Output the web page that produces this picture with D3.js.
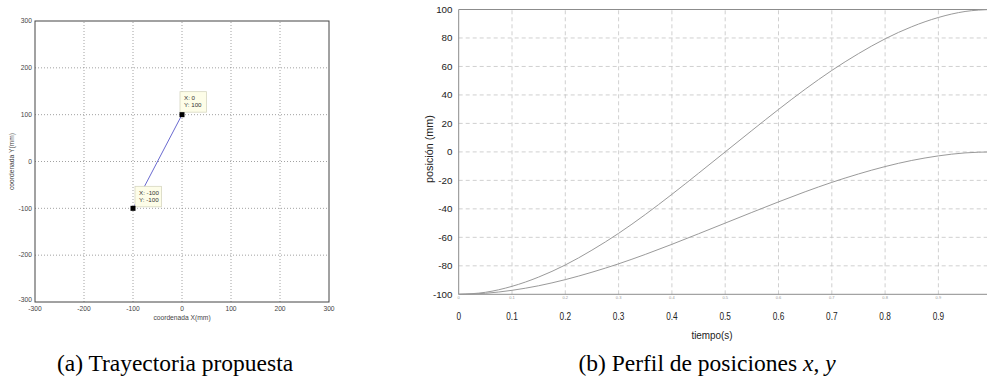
<!DOCTYPE html>
<html>
<head>
<meta charset="utf-8">
<script src="https://cdn.jsdelivr.net/npm/d3@7"></script>
<style>
  body { margin: 0; background: #fff; }
  svg { display: block; }
</style>
</head>
<body>
<div id="fig"></div>
<script>
// (a) trajectory: start and end points
let trajX = [-100, 0]
let trajY = [-100, 100]
let tipLabels = [["X: -100", "Y: -100"], ["X: 0", "Y: 100"]]
let tickA = [-300, -200, -100, 0, 100, 200, 300]

// (b) position profiles
let tiempo = [0, 0.05, 0.1, 0.15, 0.2, 0.25, 0.3, 0.35, 0.4, 0.45, 0.5,
  0.55, 0.6, 0.65, 0.7, 0.75, 0.8, 0.85, 0.9, 0.95, 1]
let posX = [-100, -98.6, -94.4, -87.9, -79.4, -69, -57.2, -44, -29.8, -15, 0,
  15, 29.8, 44, 57.2, 69, 79.4, 87.9, 94.4, 98.6, 100]
let posY = [-100, -99.3, -97.2, -94, -89.7, -84.5, -78.6, -72, -64.9, -57.5, -50,
  -42.5, -35.1, -28, -21.4, -15.5, -10.3, -6, -2.8, -0.7, 0]
let tickT = [0, 0.1, 0.2, 0.3, 0.4, 0.5, 0.6, 0.7, 0.8, 0.9]
let tickP = [-100, -80, -60, -40, -20, 0, 20, 40, 60, 80, 100]

let width = 987
let height = 378
let sans = "'Liberation Sans', Arial, sans-serif"

let svg = d3.select("#fig")
  .append("svg")
  .attr("width", width)
  .attr("height", height)

// ---------- left plot ----------
let xa = d3.scaleLinear().domain([-300, 300]).range([35, 329])
let ya = d3.scaleLinear().domain([-300, 300]).range([302, 21])

let ga = svg.append("g")

// dotted grid
ga.selectAll(".gvx")
  .data(tickA.slice(1, -1))
  .enter()
  .append("line")
  .attr("x1", d => xa(d)).attr("x2", d => xa(d))
  .attr("y1", ya(-300)).attr("y2", ya(300))
  .attr("stroke", "#8a8a8a")
  .attr("stroke-width", 0.8)
  .attr("stroke-dasharray", "1,2")

ga.selectAll(".gvy")
  .data(tickA.slice(1, -1))
  .enter()
  .append("line")
  .attr("x1", xa(-300)).attr("x2", xa(300))
  .attr("y1", d => ya(d)).attr("y2", d => ya(d))
  .attr("stroke", "#8a8a8a")
  .attr("stroke-width", 0.8)
  .attr("stroke-dasharray", "1,2")

// frame
ga.append("rect")
  .attr("x", xa(-300)).attr("y", ya(300))
  .attr("width", xa(300) - xa(-300))
  .attr("height", ya(-300) - ya(300))
  .attr("fill", "none")
  .attr("stroke", "#444")
  .attr("stroke-width", 1)

// tick labels
ga.selectAll(".tx")
  .data(tickA)
  .enter()
  .append("text")
  .attr("x", d => xa(d))
  .attr("y", ya(-300) + 8.5)
  .attr("text-anchor", "middle")
  .style("font-family", sans)
  .style("font-size", "6.7px")
  .attr("fill", "#444")
  .text(d => d)

ga.selectAll(".ty")
  .data(tickA)
  .enter()
  .append("text")
  .attr("x", xa(-300) - 3)
  .attr("y", d => ya(d) + (d == -300 ? 0 : 2.3))
  .attr("text-anchor", "end")
  .style("font-family", sans)
  .style("font-size", "6.7px")
  .attr("fill", "#444")
  .text(d => d)

ga.append("text")
  .attr("x", xa(0))
  .attr("y", 320)
  .attr("text-anchor", "middle")
  .style("font-family", sans)
  .style("font-size", "6.7px")
  .attr("fill", "#444")
  .text("coordenada X(mm)")

ga.append("text")
  .attr("transform", "translate(14," + ya(0) + ") rotate(-90)")
  .attr("text-anchor", "middle")
  .style("font-family", sans)
  .style("font-size", "6.7px")
  .attr("fill", "#444")
  .text("coordenada Y(mm)")

// trajectory line
ga.append("line")
  .attr("x1", xa(trajX[0])).attr("y1", ya(trajY[0]))
  .attr("x2", xa(trajX[1])).attr("y2", ya(trajY[1]))
  .attr("stroke", "#6a6ad0")
  .attr("stroke-width", 1)

// data tips
let tipOff = [[2, -22], [-2, -23]]
trajX.forEach((v, i) => {
  let px = xa(v), py = ya(trajY[i])
  let bx = px + tipOff[i][0], by = py + tipOff[i][1]
  ga.append("rect")
    .attr("x", bx).attr("y", by)
    .attr("width", 26.5).attr("height", 20.5)
    .attr("fill", "#fdfde8")
    .attr("stroke", "#d6d6c0")
    .attr("stroke-width", 0.8)
  tipLabels[i].forEach((t, j) => {
    ga.append("text")
      .attr("x", bx + 4)
      .attr("y", by + 8.3 + j * 7.5)
      .style("font-family", sans)
      .style("font-size", "6.2px")
      .attr("fill", "#333")
      .text(t)
  })
  ga.append("rect")
    .attr("x", px - 2.5).attr("y", py - 2.5)
    .attr("width", 5).attr("height", 5)
    .attr("fill", "#000")
})

// ---------- right plot ----------
let xb = d3.scaleLinear().domain([0, 1]).range([458.7, 991.7])
let yb = d3.scaleLinear().domain([-100, 100]).range([294.3, 9.5])

let gb = svg.append("g")

gb.selectAll(".gbx")
  .data(tickT.slice(1))
  .enter()
  .append("line")
  .attr("x1", d => xb(d)).attr("x2", d => xb(d))
  .attr("y1", yb(-100)).attr("y2", yb(100))
  .attr("stroke", "#c4c4c4")
  .attr("stroke-width", 0.8)
  .attr("stroke-dasharray", "4,3")

gb.selectAll(".gby")
  .data(tickP.slice(1, -1))
  .enter()
  .append("line")
  .attr("x1", xb(0)).attr("x2", width)
  .attr("y1", d => yb(d)).attr("y2", d => yb(d))
  .attr("stroke", "#c4c4c4")
  .attr("stroke-width", 0.8)
  .attr("stroke-dasharray", "4,3")

// axes lines
gb.append("path")
  .attr("d", "M" + width + "," + yb(100) + "H" + xb(0) + "V" + yb(-100) + "H" + width)
  .attr("fill", "none")
  .attr("stroke", "#8c8c8c")
  .attr("stroke-width", 1)

// curves
let line = d3.line()
  .x((d, i) => xb(tiempo[i]))
  .y(d => yb(d))
  .curve(d3.curveMonotoneX)

gb.append("path")
  .datum(posX)
  .attr("d", line)
  .attr("fill", "none")
  .attr("stroke", "#9a9a9a")
  .attr("stroke-width", 1)

gb.append("path")
  .datum(posY)
  .attr("d", line)
  .attr("fill", "none")
  .attr("stroke", "#9a9a9a")
  .attr("stroke-width", 1)

// y labels
gb.selectAll(".lby")
  .data(tickP)
  .enter()
  .append("text")
  .attr("x", 452.5)
  .attr("y", d => yb(d) + 3.5)
  .attr("text-anchor", "end")
  .style("font-family", sans)
  .style("font-size", "9.8px")
  .attr("fill", "#222")
  .text(d => d)

// tiny tick labels on the axis
gb.selectAll(".lbs")
  .data(tickT)
  .enter()
  .append("text")
  .attr("x", d => xb(d))
  .attr("y", yb(-100) + 5)
  .attr("text-anchor", "middle")
  .style("font-family", sans)
  .style("font-size", "4px")
  .attr("fill", "#999")
  .text(d => d)

// big x labels, narrow look
gb.selectAll(".lbx")
  .data(tickT)
  .enter()
  .append("text")
  .attr("transform", d => "translate(" + xb(d) + ",319.5) scale(0.75,1)")
  .attr("text-anchor", "middle")
  .style("font-family", sans)
  .style("font-size", "11px")
  .attr("fill", "#222")
  .text(d => d)

gb.append("text")
  .attr("transform", "translate(712,338.5) scale(0.9,1)")
  .attr("text-anchor", "middle")
  .style("font-family", sans)
  .style("font-size", "11px")
  .attr("fill", "#222")
  .text("tiempo(s)")

gb.append("text")
  .attr("transform", "translate(433,149) rotate(-90)")
  .attr("text-anchor", "middle")
  .style("font-family", sans)
  .style("font-size", "10.8px")
  .attr("fill", "#222")
  .text("posición (mm)")

// ---------- captions ----------
let serif = "'Liberation Serif', 'Times New Roman', serif"

svg.append("text")
  .attr("x", 175)
  .attr("y", 371)
  .attr("text-anchor", "middle")
  .style("font-family", serif)
  .style("font-size", "23.5px")
  .attr("fill", "#000")
  .text("(a) Trayectoria propuesta")

let capB = svg.append("text")
  .attr("x", 707)
  .attr("y", 371)
  .attr("text-anchor", "middle")
  .style("font-family", serif)
  .style("font-size", "23.5px")
  .attr("fill", "#000")
capB.append("tspan").text("(b) Perfil de posiciones ")
capB.append("tspan").style("font-style", "italic").text("x")
capB.append("tspan").text(", ")
capB.append("tspan").style("font-style", "italic").text("y")
</script>
</body>
</html>
